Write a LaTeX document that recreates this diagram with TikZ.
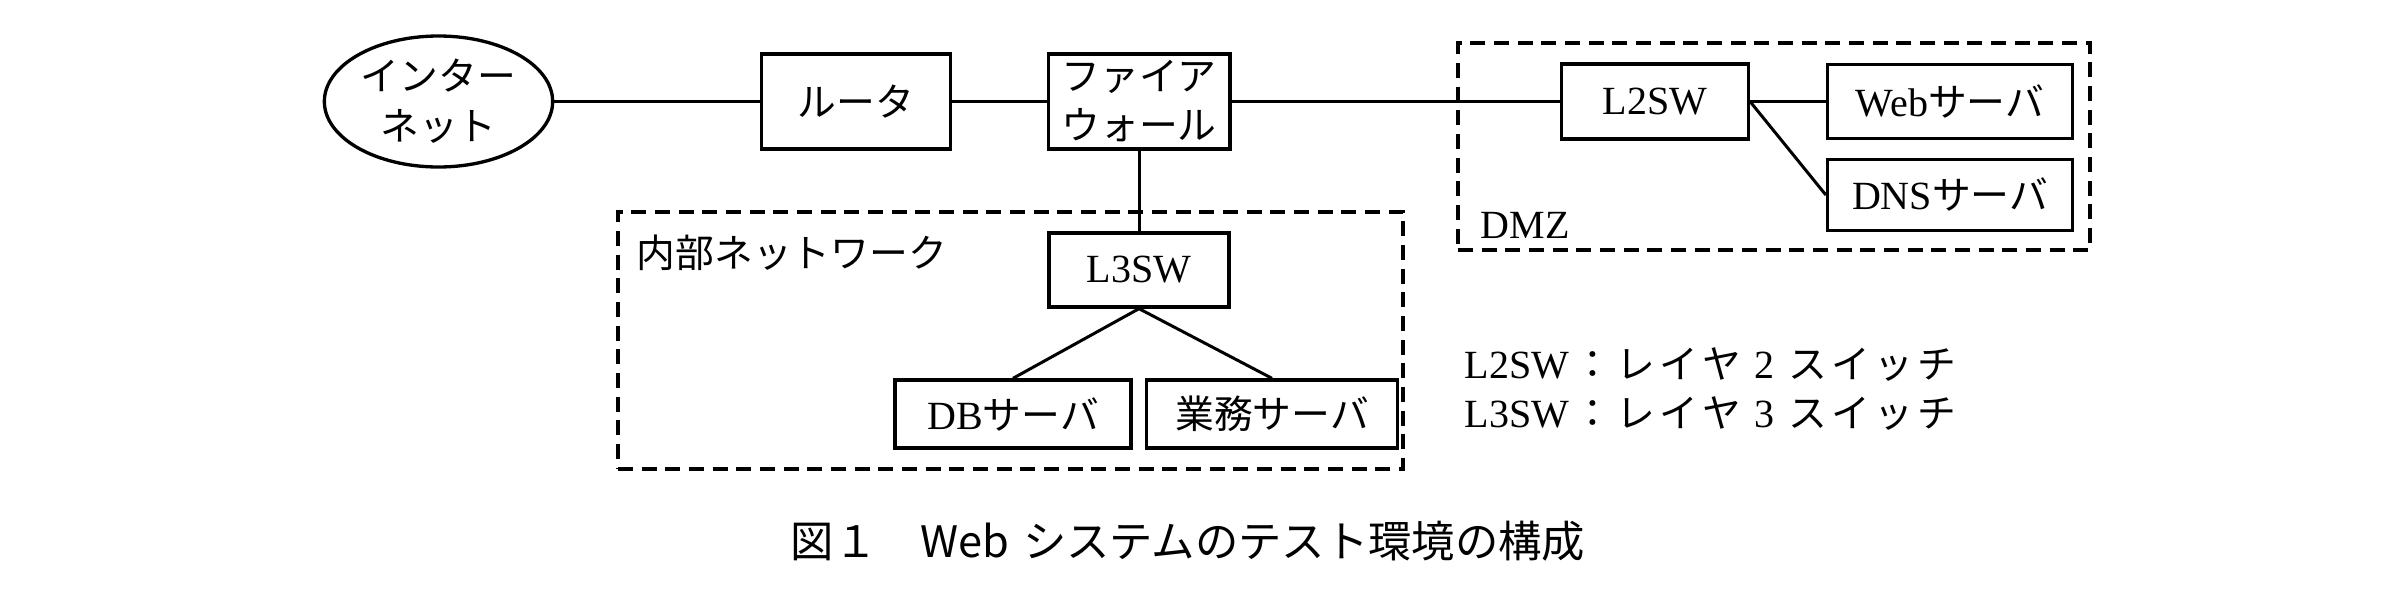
\documentclass[tikz,border=0pt]{standalone}
\usepackage{fontspec}
\setmainfont{Liberation Serif}
\newfontfamily\jp[Scale=0.97]{Noto Sans CJK JP}
\newfontfamily\jpcap{Noto Sans CJK JP}
\usetikzlibrary{shapes.geometric}
\newcommand\J[1]{{\jp #1}}
\newcommand\ls{\hspace{1.3pt}}
\newcommand\ds{\hspace{4pt}}
\begin{document}
\begin{tikzpicture}[x=0.3pt,y=-0.3pt,
  lbl/.style={font=\fontsize{12}{15}\selectfont},
  box/.style={lbl, draw, line width=1pt, inner sep=0pt, align=center},
  zone/.style={draw, dash pattern=on 4.5pt off 2.6pt, line width=1pt, inner sep=0pt},
  link/.style={line width=0.9pt}]
\useasboundingbox[fill=white] (0,0) rectangle (2404,608);
% zones
\node[zone, minimum width=189.6pt, minimum height=62.1pt] (dmz) at (1774,146.5) {};
\node[zone, minimum width=235.5pt, minimum height=77.1pt] (lan) at (1010.5,340.5) {};
% nodes
\node[box, ellipse, minimum width=68.5pt, minimum height=39.3pt, font=\fontsize{12}{15}\selectfont\jp] (inet) at (438.5,101.5) {インター\\ネット};
\node[box, minimum width=56.7pt, minimum height=28.5pt] (rt) at (856,101.5) {\J{ルータ}};
\node[box, minimum width=54.5pt, minimum height=28.5pt, font=\fontsize{12}{14.7}\selectfont\jp] (fw) at (1139,101.5) {ファイア\\ウォール};
\node[box, minimum width=56pt, minimum height=22.5pt] (l2) at (1655,101.5) {L2SW};
\node[box, minimum width=73.5pt, minimum height=22.2pt] (web) at (1950,101.5) {Web\J{サーバ}};
\node[box, minimum width=73.5pt, minimum height=21.3pt] (dns) at (1950,195) {DNS\J{サーバ}};
\node[box, minimum width=54pt, minimum height=22.2pt] (l3) at (1139,270) {L3SW};
\node[box, minimum width=70.8pt, minimum height=20.4pt] (db) at (1013,414) {DB\J{サーバ}};
\node[box, minimum width=75.3pt, minimum height=20.4pt] (biz) at (1272,414) {\J{業務サーバ}};
% labels
\node[lbl, anchor=west, inner sep=0pt] (dmzl) at (1480,225) {DMZ};
\node[lbl, anchor=west, inner sep=0pt] (lanl) at (636,253) {\J{内部ネットワーク}};
\node[lbl, anchor=west, inner sep=0pt] (leg1) at (1464,365) {L2SW\ls\J{：}\ls\J{レ\ls イ\ls ヤ}\ds 2\ds\J{ス\ls イ\ls ッ\ls チ}};
\node[lbl, anchor=west, inner sep=0pt] (leg2) at (1464,414) {L3SW\ls\J{：}\ls\J{レ\ls イ\ls ヤ}\ds 3\ds\J{ス\ls イ\ls ッ\ls チ}};
\node[font=\fontsize{13}{15}\selectfont\jpcap, inner sep=0pt] (cap) at (1188,541) {図１\hspace{13pt}Web\hspace{4pt}システムのテスト環境の構成};
% links
\draw[link] (inet.east) -- (rt.west);
\draw[link] (rt.east) -- (fw.west);
\draw[link] (fw.east) -- (l2.west);
\draw[link] (l2.east) -- (web.west);
\draw[link] (l2.east) -- (dns.west);
\draw[link] (fw.south) -- (l3.north);
\draw[link] (l3.south) -- (db.north);
\draw[link] (l3.south) -- (biz.north);
\end{tikzpicture}
\end{document}
